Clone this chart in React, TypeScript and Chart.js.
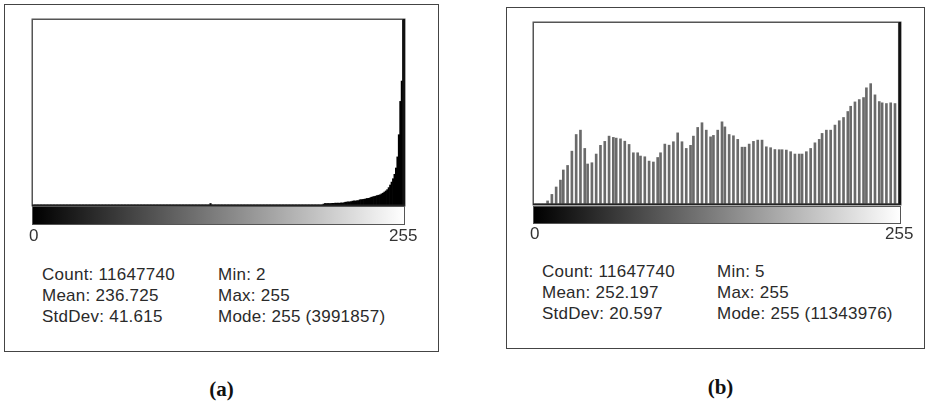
import React, { useEffect, useRef } from "react";
import { Chart, registerables } from "chart.js";

Chart.register(...registerables);

// ---------- data ----------
const binLabels: string[] = Array.from({ length: 256 }, (_, i) => String(i));
const tickLabels = ["0", "255"];

// Panel (a): bins with visible counts, heights in % of the plot height
const histABins = [
  122,
  200, 201, 202, 203, 204, 205, 206, 207, 208, 209, 210, 211, 212, 213, 214,
  215, 216, 217, 218, 219, 220, 221, 222, 223, 224, 225, 226, 227, 228, 229,
  230, 231, 232, 233, 234, 235, 236, 237, 238, 239, 240, 241, 242, 243, 244,
  245, 246, 247, 248, 249, 250, 251, 252, 253, 254, 255,
];
const histAHeights = [
  0.8,
  0.5, 0.8, 0.8, 0.8, 0.8, 0.8, 0.9, 0.9, 1.0, 1.0, 1.0, 1.0, 1.1, 1.1, 1.2,
  1.5, 1.6, 1.7, 1.7, 1.8, 2.1, 2.2, 2.2, 2.3, 2.4, 2.8, 2.9, 3.0, 3.1, 3.3,
  3.5, 3.6, 3.8, 4.2, 4.4, 4.6, 4.8, 5.1, 5.3, 5.5, 6.0, 6.4, 7.0, 7.6, 8.3,
  9.4, 10.8, 12.4, 14.2, 16.6, 20, 26, 38, 56, 67, 100,
];

// Panel (b): sparse (stretched) histogram, heights in % of plot height
const histBBins = [
  9, 12, 15, 18, 20, 23, 26, 29, 32, 35, 37, 40, 43, 46, 49, 52, 55, 57, 60,
  63, 66, 69, 72, 74, 77, 80, 83, 86, 88, 91, 94, 97, 100, 103, 106, 109, 111,
  114, 117, 120, 123, 125, 128, 131, 133, 136, 139, 142, 145, 147, 150, 153,
  156, 159, 162, 165, 168, 171, 173, 176, 179, 182, 185, 187, 190, 193, 196,
  199, 201, 204, 207, 210, 213, 216, 219, 221, 224, 227, 230, 232, 235, 238,
  241, 243, 246, 249, 252, 255,
];
const histBHeights = [
  1.7, 5.3, 9.4, 13.2, 18.8, 21.3, 29.2, 38.4, 40.8, 30.7, 22.1, 22.8, 27.6,
  32.4, 34.6, 37.5, 36.8, 36.4, 36.0, 34.7, 32.9, 28.3, 28.3, 26.5, 26.1, 23.7,
  23.2, 25.7, 28.3, 33.1, 32.5, 34.4, 39.3, 34.4, 30.7, 32.4, 37.5, 42.3, 44.9,
  40.8, 37.1, 37.9, 40.8, 45.4, 42.6, 38.4, 37.7, 35.7, 31.4, 31.4, 33.1, 34.6,
  35.3, 35.3, 31.6, 31.1, 30.1, 30.0, 30.0, 29.8, 28.9, 27.6, 27.6, 27.6, 28.9,
  30.7, 33.8, 35.7, 39.0, 40.8, 40.8, 43.6, 46.0, 47.8, 51.1, 54.0, 56.4, 57.7,
  58.8, 64.2, 66.5, 60.3, 56.6, 55.9, 55.5, 55.9, 55.5, 100,
];

const statsALeft = ["Count: 11647740", "Mean: 236.725", "StdDev: 41.615"];
const statsARight = ["Min: 2", "Max: 255", "Mode: 255 (3991857)"];
const statsBLeft = ["Count: 11647740", "Mean: 252.197", "StdDev: 20.597"];
const statsBRight = ["Min: 5", "Max: 255", "Mode: 255 (11343976)"];
const captions = ["(a)", "(b)"];

// ---------- helpers ----------
function toFullHistogram(bins: number[], heights: number[]): number[] {
  const arr = new Array(256).fill(0);
  bins.forEach((b, i) => {
    arr[b] = heights[i];
  });
  return arr;
}

const SANS = '"Liberation Sans", Arial, Helvetica, sans-serif';

const decorPlugin = {
  id: "decor",
  afterDraw(chart: any, _args: any, opts: any) {
    const { ctx, chartArea: a } = chart;
    ctx.save();
    // plot frame
    ctx.strokeStyle = "#555";
    ctx.lineWidth = 1.5;
    ctx.strokeRect(a.left - 0.75, a.top - 0.75, a.right - a.left + 1.5, a.bottom - a.top + 1.5);
    // dark right edge (full-height mode bin)
    ctx.fillStyle = "#111";
    ctx.fillRect(a.right - 1.5, a.top - 1, 2.5, a.bottom - a.top + 1);
    // baseline
    ctx.fillStyle = "#222";
    ctx.fillRect(a.left - 1, a.bottom - 0.5, a.right - a.left + 2, 1.5);
    // grey-level bar
    const y0 = a.bottom + opts.gap;
    const h = opts.barH;
    const g = ctx.createLinearGradient(a.left, 0, a.right, 0);
    g.addColorStop(0, "#000");
    g.addColorStop(1, "#fff");
    ctx.fillStyle = g;
    ctx.fillRect(a.left, y0, a.right - a.left, h);
    ctx.strokeStyle = "#555";
    ctx.lineWidth = 1;
    ctx.strokeRect(a.left - 0.5, y0 - 0.5, a.right - a.left + 1, h + 1);
    ctx.restore();
  },
};

type HistProps = {
  left: number;
  top: number;
  plotW: number;
  plotH: number;
  data: number[];
  color: string;
  thickness?: number;
  tickPad: number;
  gap: number;
  barH: number;
};

const PAD_L = 32;
const PAD_R = 42;
const PAD_T = 5;
const AXIS_H = 45;

function Histogram(p: HistProps) {
  const ref = useRef<HTMLCanvasElement | null>(null);
  const W = p.plotW + PAD_L + PAD_R;
  const H = p.plotH + PAD_T + AXIS_H;
  useEffect(() => {
    if (!ref.current) return;
    const ds: any = {
      data: p.data,
      backgroundColor: p.color,
      borderWidth: 0,
      barPercentage: 1,
      categoryPercentage: 1,
    };
    if (p.thickness) ds.barThickness = p.thickness;
    const chart = new Chart(ref.current, {
      type: "bar",
      data: { labels: binLabels, datasets: [ds] },
      options: {
        animation: false,
        responsive: false,
        events: [],
        layout: { padding: { left: PAD_L, right: PAD_R, top: PAD_T, bottom: 0 } },
        plugins: {
          legend: { display: false },
          tooltip: { enabled: false },
          decor: { gap: p.gap, barH: p.barH },
        } as any,
        scales: {
          x: {
            grid: { display: false, drawTicks: false },
            border: { display: false },
            ticks: {
              autoSkip: false,
              maxRotation: 0,
              minRotation: 0,
              padding: p.tickPad,
              color: "#333",
              font: { family: SANS, size: 17 },
              callback: (_v: any, i: number) =>
                i === 0 ? tickLabels[0] : i === 255 ? tickLabels[1] : "",
            },
            afterFit: (s: any) => {
              s.height = AXIS_H;
            },
          },
          y: { display: false, min: 0, max: 100 },
        },
      },
      plugins: [decorPlugin],
    });
    return () => chart.destroy();
  }, []);
  return (
    <canvas
      ref={ref}
      width={W}
      height={H}
      style={{
        position: "absolute",
        left: p.left - PAD_L,
        top: p.top - PAD_T,
        width: W,
        height: H,
      }}
    />
  );
}

function StatLines({ lines, left, top }: { lines: string[]; left: number; top: number }) {
  return (
    <div
      style={{
        position: "absolute",
        left,
        top,
        fontFamily: SANS,
        fontSize: 17,
        lineHeight: "21px",
        letterSpacing: "0.25px",
        color: "#2a2a2a",
        whiteSpace: "nowrap",
      }}
    >
      {lines.map((l, i) => (
        <div key={i}>{l}</div>
      ))}
    </div>
  );
}

function Caption({ text, cx, top }: { text: string; cx: number; top: number }) {
  return (
    <div
      style={{
        position: "absolute",
        left: cx - 40,
        width: 80,
        top,
        textAlign: "center",
        fontFamily: '"Liberation Serif", "Times New Roman", serif',
        fontWeight: "bold",
        fontSize: 21,
        lineHeight: "21px",
        color: "#111",
      }}
    >
      {text}
    </div>
  );
}

export default function App() {
  const dataA = toFullHistogram(histABins, histAHeights);
  const dataB = toFullHistogram(histBBins, histBHeights);
  return (
    <div
      style={{
        position: "absolute",
        left: 0,
        top: 0,
        width: 927,
        height: 404,
        background: "#fff",
        overflow: "hidden",
      }}
    >
      {/* panel (a) */}
      <div
        style={{
          position: "absolute",
          left: 4,
          top: 4,
          width: 435,
          height: 348,
          border: "1px solid #444",
          boxSizing: "border-box",
        }}
      />
      <Histogram
        left={33}
        top={20}
        plotW={371}
        plotH={185}
        data={dataA}
        color="#000"
        tickPad={21}
        gap={2}
        barH={17}
      />
      <StatLines lines={statsALeft} left={42} top={264} />
      <StatLines lines={statsARight} left={218} top={264} />
      <Caption text={captions[0]} cx={221.5} top={378.6} />

      {/* panel (b) */}
      <div
        style={{
          position: "absolute",
          left: 506,
          top: 7,
          width: 419,
          height: 342,
          border: "1px solid #444",
          boxSizing: "border-box",
        }}
      />
      <Histogram
        left={534}
        top={23}
        plotW={366}
        plotH={181}
        data={dataB}
        color="#6a6a6a"
        thickness={2}
        tickPad={20}
        gap={3}
        barH={16}
      />
      <StatLines lines={statsBLeft} left={542} top={261} />
      <StatLines lines={statsBRight} left={717} top={261} />
      <Caption text={captions[1]} cx={720.5} top={376.6} />
    </div>
  );
}
